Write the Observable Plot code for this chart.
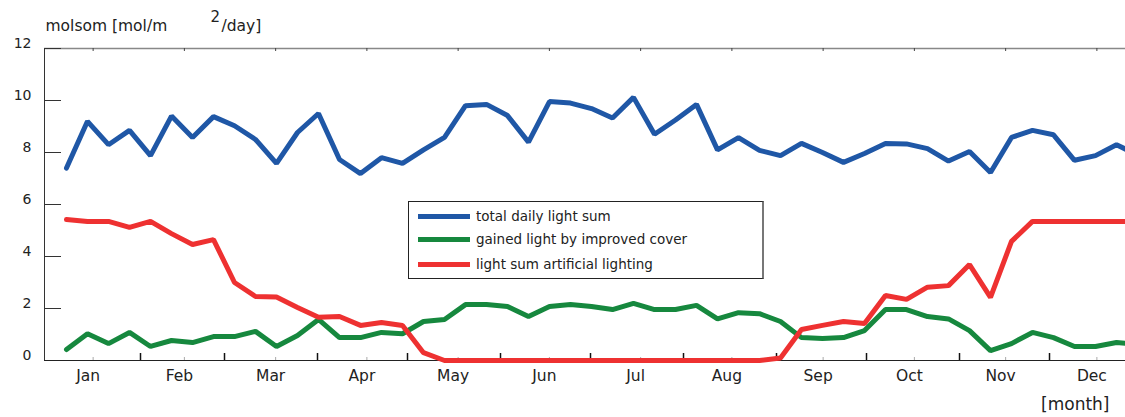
<!DOCTYPE html>
<html><head><meta charset="utf-8">
<script src="https://cdn.jsdelivr.net/npm/d3@7"></script>
<script src="https://cdn.jsdelivr.net/npm/@observablehq/plot@0.6"></script>
<style>
html,body{margin:0;padding:0;background:#fff;overflow:hidden;}
#wrap{position:relative;width:1125px;height:417px;font-family:"DejaVu Sans",Verdana,sans-serif;}
#legend{position:absolute;left:408px;top:201px;width:356px;height:78px;border:1px solid #222;border-right:2px solid #777;background:#fff;box-sizing:border-box;}
.row{position:absolute;left:9px;height:16px;display:flex;align-items:center;font-size:13.5px;color:#222;white-space:nowrap;}
.sw{width:52px;height:5px;margin-right:6px;}
</style></head>
<body><div id="wrap"></div>
<script>
const weeks = d3.range(1, 53);
const totalLight = [
  7.4, 9.2, 8.3, 8.85, 7.88, 9.4, 8.58, 9.38, 9.03, 8.5,
  7.58, 8.77, 9.5, 7.73, 7.19, 7.8, 7.58, 8.1, 8.58, 9.8,
  9.85, 9.42, 8.4, 9.96, 9.9, 9.69, 9.33, 10.12, 8.7, 9.25,
  9.85, 8.1, 8.57, 8.08, 7.88, 8.35, 8.0, 7.62, 7.96, 8.35,
  8.33, 8.15, 7.67, 8.04, 7.23, 8.58, 8.85, 8.68, 7.7, 7.88,
  8.3, 7.9
];
const gainedLight = [
  0.42, 1.03, 0.65, 1.08, 0.54, 0.77, 0.69, 0.92, 0.92, 1.12,
  0.54, 0.96, 1.58, 0.88, 0.88, 1.08, 1.03, 1.5, 1.58, 2.15,
  2.15, 2.08, 1.69, 2.08, 2.15, 2.08, 1.96, 2.2, 1.96, 1.96,
  2.12, 1.6, 1.84, 1.8, 1.5, 0.88, 0.85, 0.88, 1.15, 1.96,
  1.96, 1.69, 1.6, 1.15, 0.38, 0.65, 1.08, 0.88, 0.54, 0.54,
  0.69, 0.62
];
const artificialLight = [
  5.42, 5.35, 5.35, 5.12, 5.35, 4.88, 4.46, 4.65, 3.0, 2.46,
  2.44, 2.04, 1.66, 1.69, 1.35, 1.46, 1.35, 0.3, 0, 0,
  0, 0, 0, 0, 0, 0, 0, 0, 0, 0,
  0, 0, 0, 0, 0.1, 1.19, 1.35, 1.5, 1.42, 2.5,
  2.35, 2.82, 2.88, 3.69, 2.43, 4.58, 5.35, 5.35, 5.35, 5.35,
  5.35, 5.35
];
const seriesNames = ["total daily light sum", "gained light by improved cover", "light sum artificial lighting"];
const seriesColors = ["#1f57a6", "#16883e", "#ee3131"];
const monthLabels = ["Jan","Feb","Mar","Apr","May","Jun","Jul","Aug","Sep","Oct","Nov","Dec"];
const monthStartDays = [31, 59, 90, 120, 151, 181, 212, 243, 273, 304, 334];
const yTicks = [0, 2, 4, 6, 8, 10, 12];
const titleParts = ["molsom [mol/m", "2", "/day]"];
const xLabel = "[month]";

const xDomain = [-1, 359.33];
const dayOfWeek = w => 7 * w - 0.67;
const monthMid = monthLabels.map((m, k) => (k + 0.5) * 365 / 12);
const seriesValues = [totalLight, gainedLight, artificialLight];
const data = seriesNames.flatMap((s, j) => weeks.map((w, i) => ({day: dayOfWeek(w), value: seriesValues[j][i], series: s})));

const W = 1125, H = 417, ML = 44, MT = 48, MB = 57;
const plot = Plot.plot({
  width: W, height: H,
  marginLeft: ML, marginRight: 0, marginTop: MT, marginBottom: MB,
  style: {fontFamily: "DejaVu Sans, Verdana, sans-serif", background: "#fff", overflow: "hidden", color: "#222"},
  x: {domain: xDomain, axis: null},
  y: {domain: [0, 12], axis: null},
  color: {domain: seriesNames, range: seriesColors},
  marks: [
    Plot.ruleY([12], {stroke: "#888", strokeWidth: 1.5}),
    Plot.tickX(monthMid, {stroke: "#444", insetBottom: 309}),
    Plot.tickX(monthMid, {stroke: "#aaa", insetTop: 309}),
    Plot.tickX(monthStartDays, {stroke: "#111", strokeWidth: 1.5, insetTop: 305}),
    Plot.tickY(yTicks, {stroke: "#333", insetRight: W - ML - 17}),
    Plot.ruleX([xDomain[0]], {stroke: "#333"}),
    Plot.ruleY([0], {stroke: "#222"}),
    Plot.axisY(yTicks, {tickSize: 0, tickPadding: 13, dy: -5, fontSize: 14, label: null}),
    Plot.axisX(monthMid, {tickSize: 0, tickPadding: 9, dx: -5, fontSize: 15.5, label: null,
      tickFormat: d => monthLabels[monthMid.indexOf(d)]}),
    Plot.line(data, {x: "day", y: "value", z: "series", stroke: "series", strokeWidth: 5, strokeLinejoin: "miter"}),
    Plot.text([titleParts[0]], {text: d => d, frameAnchor: "top-left", dx: 1, dy: -18, lineAnchor: "bottom", textAnchor: "start", fontSize: 15.5, fill: "#222"}),
    Plot.text([titleParts[1]], {text: d => d, frameAnchor: "top-left", dx: 166, dy: -27, lineAnchor: "bottom", textAnchor: "start", fontSize: 15, fill: "#222"}),
    Plot.text([titleParts[2]], {text: d => d, frameAnchor: "top-left", dx: 177, dy: -18, lineAnchor: "bottom", textAnchor: "start", fontSize: 15.5, fill: "#222"}),
    Plot.text([xLabel], {text: d => d, frameAnchor: "bottom-right", dx: -16, dy: 49, lineAnchor: "bottom", textAnchor: "end", fontSize: 17, fill: "#222"})
  ]
});
const wrap = document.getElementById("wrap");
wrap.appendChild(plot);
const legend = document.createElement("div");
legend.id = "legend";
const rowTops = [6, 29, 54];
seriesNames.forEach((s, j) => {
  const row = document.createElement("div");
  row.className = "row";
  row.style.top = rowTops[j] + "px";
  const sw = document.createElement("span");
  sw.className = "sw";
  sw.style.background = seriesColors[j];
  const t = document.createElement("span");
  t.textContent = s;
  row.appendChild(sw); row.appendChild(t);
  legend.appendChild(row);
});
wrap.appendChild(legend);
</script>
</body></html>
